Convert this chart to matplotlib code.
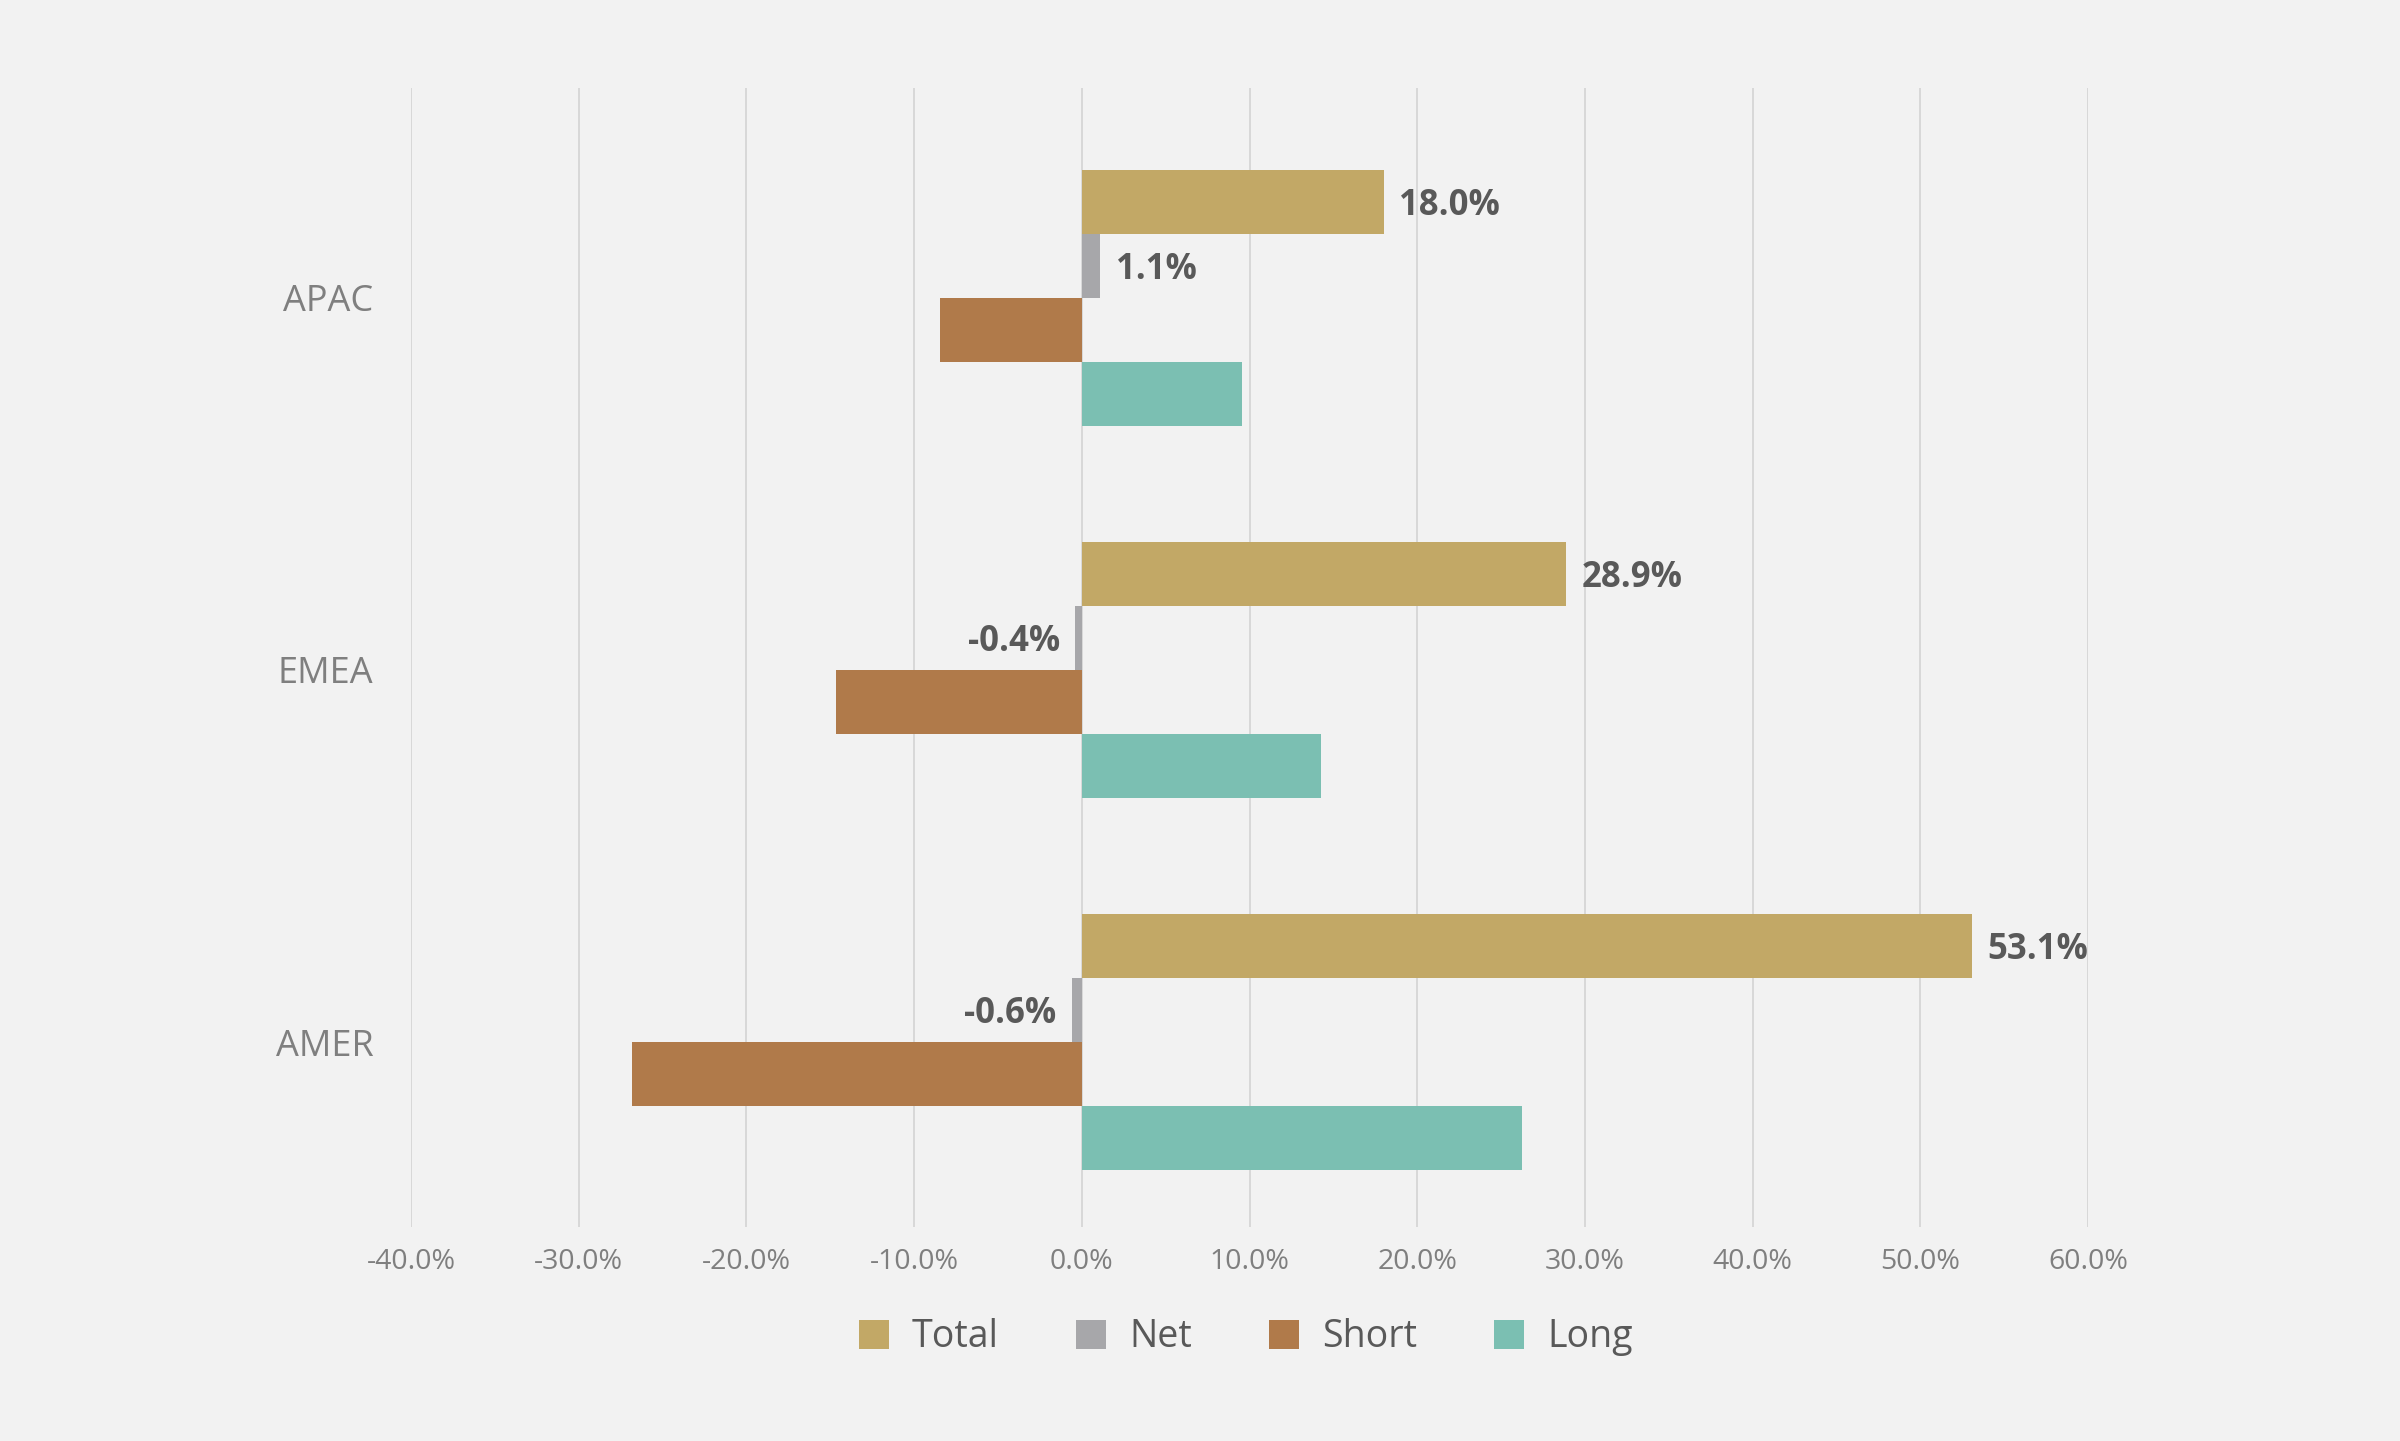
import matplotlib
matplotlib.use("Agg")
import matplotlib.pyplot as plt
import numpy as np
from matplotlib.patches import Patch
from matplotlib.ticker import FuncFormatter

plt.rcParams['font.family'] = ['Open Sans', 'DejaVu Sans']

categories = ["AMER", "EMEA", "APAC"]
series = ["Total", "Net", "Short", "Long"]
total = [53.1, 28.9, 18.0]
net = [-0.6, -0.4, 1.1]
short = [-26.85, -14.65, -8.45]
long_ = [26.25, 14.25, 9.55]
colors = ["#C2A866", "#A7A7AA", "#B07A4A", "#7BBFB2"]
xticks = [-40, -30, -20, -10, 0, 10, 20, 30, 40, 50, 60]

bg = "#F2F2F2"
fig = plt.figure(figsize=(24, 14.41), dpi=100, facecolor=bg)
ax = fig.add_axes([0.1713, 0.1485, 0.8700 - 0.1713, 0.9392 - 0.1485])
ax.set_facecolor(bg)

y = np.arange(len(categories))
h = 0.172
offsets = [1.5 * h, 0.5 * h, -0.5 * h, -1.5 * h]
data = [total, net, short, long_]

for vals, off, c, name in zip(data, offsets, colors, series):
    ax.barh(y + off, vals, height=h, color=c, label=name, zorder=3)

lab_color = "#595959"
lab_fs = 25
for i in range(len(categories)):
    ax.annotate(f"{total[i]:.1f}%", (total[i], y[i] + offsets[0]),
                xytext=(11, -3), textcoords="offset points", ha="left", va="center",
                fontsize=lab_fs, fontweight="bold", color=lab_color)
    v = net[i]
    if v >= 0:
        ax.annotate(f"{v:.1f}%", (v, y[i] + offsets[1]), xytext=(11, -3),
                    textcoords="offset points", ha="left", va="center",
                    fontsize=lab_fs, fontweight="bold", color=lab_color)
    else:
        ax.annotate(f"{v:.1f}%", (v, y[i] + offsets[1]), xytext=(-11, -3),
                    textcoords="offset points", ha="right", va="center",
                    fontsize=lab_fs, fontweight="bold", color=lab_color)

ax.set_xlim(-40, 60)
ax.set_ylim(-0.497, 2.565)
ax.set_xticks(xticks)
ax.xaxis.set_major_formatter(FuncFormatter(lambda v, p: f"{v:.1f}%"))
ax.set_yticks(y)
ax.set_yticklabels(categories)
ax.tick_params(axis="x", length=0, pad=15, labelsize=20.5, labelcolor="#7F7F7F")
ax.tick_params(axis="y", length=0, pad=27, labelsize=26, labelcolor="#7F7F7F")
for s in ax.spines.values():
    s.set_visible(False)
ax.grid(axis="x", color="#D6D6D6", linewidth=1.3, zorder=0)
ax.set_axisbelow(True)

handles = [Patch(facecolor=c, edgecolor="none", label=n) for c, n in zip(colors, series)]
leg = fig.legend(handles=handles, loc="center", bbox_to_anchor=(0.519, 0.072), ncol=4,
                 frameon=False, fontsize=27, handlelength=0.82, handleheight=0.82,
                 handletextpad=0.6, columnspacing=2.05)
for t in leg.get_texts():
    t.set_color("#595959")

fig.savefig("out.png", dpi=100, facecolor=bg)
